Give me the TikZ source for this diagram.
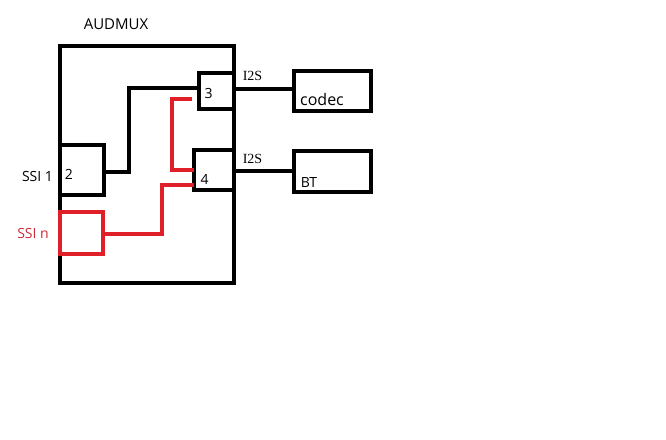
\documentclass[tikz,border=0pt]{standalone}
\usepackage{fontspec}
\setmainfont{Open Sans}
\newfontfamily\iisfont{Liberation Serif}
\usetikzlibrary{positioning}
\definecolor{paintred}{RGB}{224,32,40}
\definecolor{labelred}{RGB}{200,45,55}

\begin{document}
\begin{tikzpicture}[x=1pt,y=-1pt,line width=4pt,
 blk/.style={draw,inner sep=0pt,outer sep=0pt},
 redblk/.style={blk,draw=paintred},
 lbl/.style={inner sep=0pt,anchor=base,font=\fontsize{14}{16}\selectfont},
 iis/.style={lbl,font=\iisfont\fontsize{14}{16}\selectfont}]
\useasboundingbox (0,0) rectangle (666,439);
% mux body and ports
\node[blk,minimum width=174,minimum height=237] (audmux) at (147,164.5) {};
\node[blk,minimum width=35,minimum height=36] (port3) at (216.5,91) {};
\node[blk,minimum width=40,minimum height=40] (port4) at (214,170) {};
\node[blk,minimum width=44,minimum height=50] (port2) at (82,170) {};
\node[redblk,minimum width=43,minimum height=42] (ssin) at (81.5,233) {};
% external devices
\node[blk,minimum width=77,minimum height=40] (codec) at (332.5,91) {};
\node[blk,minimum width=77,minimum height=41] (bt) at (332.5,171.5) {};
% connections
\draw ([yshift=-2pt]port2.east) -- ++(25,0) |- ([yshift=3pt]port3.west);
\draw[paintred] ([xshift=-7pt,yshift=-8pt]port3.west) -- ++(-20,0) |- (port4.west);
\draw[paintred] ([yshift=-1pt]ssin.east) -- ++(59,0) |- ([yshift=-15pt]port4.west);
\draw ([yshift=2pt]port3.east) -- ([yshift=2pt]port3.east -| codec.west);
\draw ([yshift=-1pt]port4.east) -- ([yshift=-1pt]port4.east -| bt.west);
% texts
\node[lbl,font=\fontsize{15}{18}\selectfont] (muxname) at (116,29) {AUDMUX};
\node[lbl] (num3) at (208.5,98) {3};
\node[lbl] (num4) at (204.5,184) {4};
\node[lbl] (num2) at (69,179) {2};
\node[iis] (iistop) at (252.5,80) {I2S};
\node[iis] (iisbot) at (252.5,163) {I2S};
\node[lbl,font=\fontsize{16}{18}\selectfont] (codecname) at (322,105) {codec};
\node[lbl] (btname) at (309,187) {BT};
\node[lbl] (ssione) at (37.5,181) {SSI 1};
\node[lbl,text=labelred] (ssinname) at (33,238) {SSI n};
\end{tikzpicture}
\end{document}
